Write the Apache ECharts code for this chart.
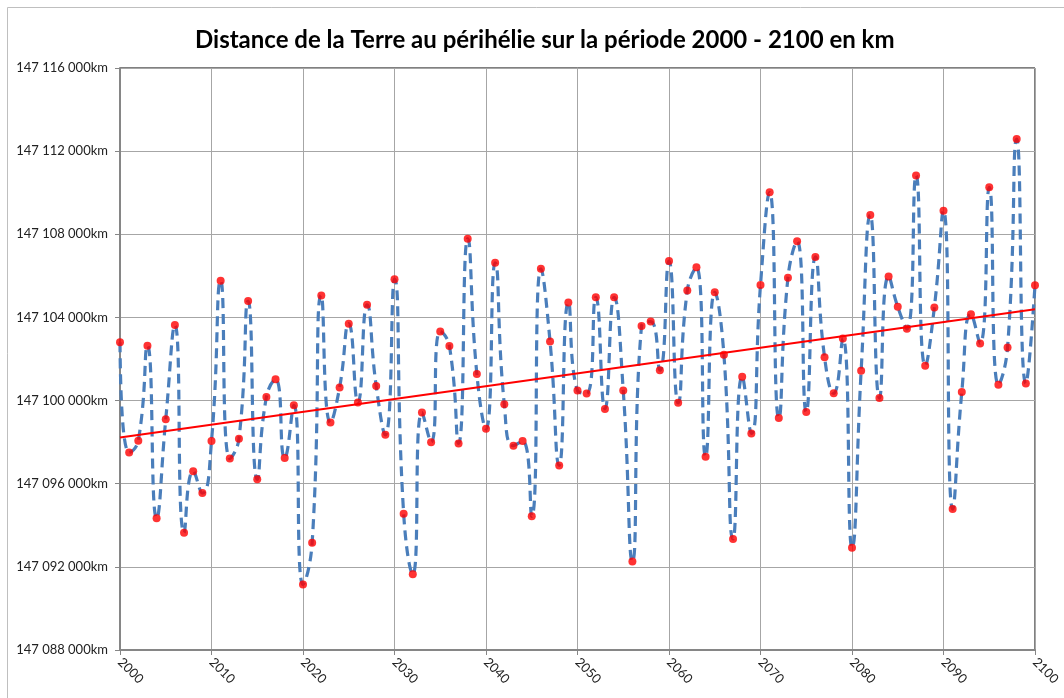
<!DOCTYPE html>
<html>
<head>
<meta charset="utf-8">
<script src="https://cdn.jsdelivr.net/npm/echarts@6/dist/echarts.min.js"></script>
<style>
html,body{margin:0;padding:0;background:#fff;}
#chart{width:1064px;height:698px;}
</style>
</head>
<body>
<div id="chart"></div>
<script>
// Years 2000..2100
const years = [];
for (let y = 2000; y <= 2100; y++) years.push(y);

// Perihelion distance (km)
const distances = [
  147102800, 147097500, 147098070, 147102640, 147094340, 147099100, 147103630, 147093640, 147096600, 147095550,
  147098050, 147105770, 147097210, 147098160, 147104790, 147096210, 147100170, 147101020, 147097240, 147099770,
  147091150, 147093160, 147105060, 147098940, 147100630, 147103700, 147099910, 147104610, 147100700, 147098350,
  147105840, 147094560, 147091650, 147099430, 147098000, 147103320, 147102620, 147097940, 147107790, 147101280,
  147098640, 147106630, 147099820, 147097830, 147098050, 147094430, 147106340, 147102840, 147096880, 147104720,
  147100480, 147100340, 147104970, 147099600, 147104970, 147100480, 147092260, 147103590, 147103800, 147101460,
  147106710, 147099890, 147105290, 147106410, 147097300, 147105210, 147102210, 147093340, 147101150, 147098420,
  147105560, 147110020, 147099160, 147105910, 147107660, 147099450, 147106910, 147102090, 147100350, 147102990,
  147092920, 147101440, 147108930, 147100120, 147105970, 147104510, 147103450, 147110830, 147101680, 147104480,
  147109130, 147094780, 147100410, 147104150, 147102750, 147110260, 147100760, 147102550, 147112580, 147100820,
  147105550
];

// Linear trend end points
const trendYears = [2000, 2100];
const trendValues = [147098220, 147104390];

const yMin = 147088000, yMax = 147116000, yStep = 4000;
const title = 'Distance de la Terre au périhélie sur la période 2000 - 2100 en km';

function fmtKm(v) {
  return String(Math.round(v)).replace(/\B(?=(\d{3})+(?!\d))/g, ' ') + 'km';
}

const series = years.map((y, i) => [y, distances[i]]);
const trend = trendYears.map((y, i) => [y, trendValues[i]]);

const chart = echarts.init(document.getElementById('chart'), null, {renderer: 'canvas'});
chart.setOption({
  backgroundColor: '#ffffff',
  animation: false,
  graphic: [{
    type: 'rect',
    shape: {x: 7.5, y: 7.5, width: 1070, height: 700},
    style: {fill: 'none', stroke: '#bfbfbf', lineWidth: 1},
    z: -1
  }],
  title: {
    text: title,
    left: 190,
    top: 23,
    textStyle: {fontFamily: 'Lato', fontWeight: 'bold', fontSize: 24, color: '#000'}
  },
  grid: {
    left: 120, right: 29, top: 68, bottom: 48,
    show: true, borderColor: '#000', borderWidth: 1, backgroundColor: 'transparent'
  },
  xAxis: {
    type: 'value', min: 2000, max: 2100, interval: 10,
    axisLine: {show: true, lineStyle: {color: '#868686', width: 2}},
    axisTick: {show: true, length: 5, lineStyle: {color: '#868686'}},
    splitLine: {show: true, lineStyle: {color: '#a6a6a6', width: 1}},
    axisLabel: {rotate: -45, margin: 10, color: '#222', fontFamily: 'Lato', fontSize: 13,
      formatter: v => String(v)}
  },
  yAxis: {
    type: 'value', min: yMin, max: yMax, interval: yStep,
    axisLine: {show: true, lineStyle: {color: '#868686', width: 2}},
    axisTick: {show: true, length: 5, lineStyle: {color: '#868686'}},
    splitLine: {show: true, lineStyle: {color: '#a6a6a6', width: 1}},
    axisLabel: {margin: 12, color: '#222', fontFamily: 'Lato', fontSize: 13, formatter: fmtKm}
  },
  series: [
    {
      type: 'line', data: series, smooth: 0.55, showSymbol: false, symbol: 'none',
      lineStyle: {color: '#4a7ebb', width: 3.2, type: [10, 6]}, z: 2
    },
    {
      type: 'line', data: trend, showSymbol: false, symbol: 'none',
      lineStyle: {color: '#ff0000', width: 2}, z: 3
    },
    {
      type: 'scatter', data: series, symbol: 'circle', symbolSize: 8,
      itemStyle: {color: '#ff0000'}, z: 4
    }
  ]
});
</script>
</body>
</html>
